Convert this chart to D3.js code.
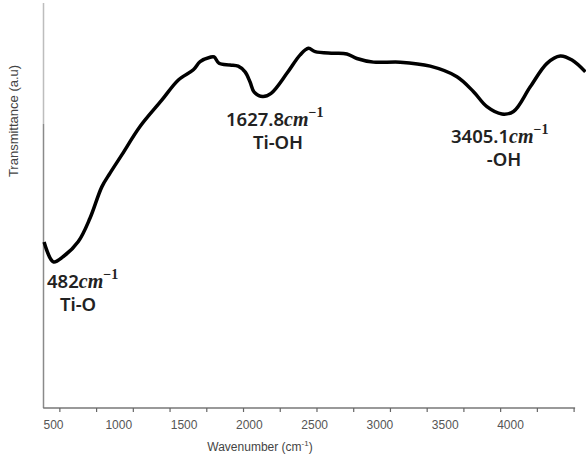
<!DOCTYPE html>
<html>
  <head>
    <meta charset="utf-8">
    <style>
        body { margin: 0; background: #fff; }
        .tick text { font-family: "Liberation Sans", Arial, sans-serif; font-size: 12px; fill: #555; }
        .ann { font-family: "Noto Sans", sans-serif; font-weight: 600; font-size: 18.5px; fill: #222; }
    </style>
    <script src="https://d3js.org/d3.v7.min.js"></script>
  </head>
  <body>
    <svg></svg>
    <script>
    // spectrum
    var wavenumber = [396, 459, 527, 629, 709, 789, 845, 925, 1049, 1197, 1310, 1412, 1458, 1526, 1553,
                      1587, 1662, 1717, 1764, 1798, 1826, 1884, 1941, 2050, 2139, 2195, 2241, 2366, 2457,
                      2525, 2638, 2820, 3024, 3206, 3319, 3410, 3512, 3591, 3705, 3819, 3909, 3989, 4080];
    var transmittance = [41.0, 36.1, 37.4, 41.1, 46.9, 54.6, 58.0, 62.5, 69.5, 76.0, 81.0, 83.5, 85.5, 86.6, 86.7,
                         85.1, 84.7, 84.4, 83.0, 80.5, 78.0, 76.9, 77.7, 82.7, 87.2, 88.8, 88.0, 87.6, 87.4,
                         86.3, 85.4, 85.4, 84.4, 81.8, 78.1, 74.4, 72.6, 73.2, 79.3, 85.1, 86.9, 85.9, 83.0];

    var tickMarks = d3.range(500, 4001, 250);
    var tickLabels = [500, 1000, 1500, 2000, 2500, 3000, 3500, 4000];

    // peak annotations
    var annValue = ["482", "1627.8", "3405.1"];
    var annGroup = ["Ti-O", "Ti-OH", "-OH"];
    var annX = [47, 226, 451];      // left of the number line
    var annY = [288, 126, 143];
    var annGroupX = [78, 278, 504];

    var svg = d3.select("svg")
        .attr("width", 586)
        .attr("height", 457);

    var x = d3.scaleLinear().domain([390, 4000]).range([43.2, 573.6]);
    // the printed labels sit on a slightly different spacing than the tick marks
    var xLab = d3.scaleLinear().domain([500, 4000]).range([53, 510]);
    var y = d3.scaleLinear().domain([0, 100]).range([408, 3]);

    // y axis, lighter at the top
    var grad = svg.append("defs").append("linearGradient")
        .attr("id", "yax")
        .attr("gradientUnits", "userSpaceOnUse")
        .attr("x1", 0).attr("y1", 3).attr("x2", 0).attr("y2", 408);
    grad.append("stop").attr("offset", 0.3).attr("stop-color", "#bdbdbd");
    grad.append("stop").attr("offset", 0.3).attr("stop-color", "#8a8a8a");

    svg.append("line")
        .attr("x1", 43.5).attr("x2", 43.5)
        .attr("y1", y(100)).attr("y2", y(0))
        .attr("stroke", "url(#yax)")
        .attr("stroke-width", 1.5);

    // x axis: tick marks
    var xAxis = svg.append("g")
        .attr("transform", "translate(0,408)")
        .call(d3.axisBottom(x).tickValues(tickMarks).tickSize(4).tickSizeOuter(0).tickFormat(""));
    xAxis.select(".domain").attr("stroke", "#777").attr("stroke-width", 1.3)
        .attr("d", "M" + x(390) + ",0H" + (x(4000) + 1.5));
    xAxis.selectAll(".tick line").attr("stroke", "#666").attr("stroke-width", 1.2);

    // x axis: labels
    var xLabels = svg.append("g")
        .attr("transform", "translate(0,408)")
        .call(d3.axisBottom(xLab).tickValues(tickLabels).tickSize(0).tickPadding(12)
            .tickFormat(d3.format("d")));
    xLabels.select(".domain").remove();
    xLabels.selectAll(".tick line").remove();

    var xt = svg.append("text")
        .attr("x", 260).attr("y", 451)
        .attr("text-anchor", "middle")
        .attr("font-family", "Liberation Sans, Arial, sans-serif")
        .attr("font-size", 12).attr("fill", "#444");
    xt.append("tspan").text("Wavenumber (cm");
    xt.append("tspan").attr("font-size", 8).attr("dy", -5).text("-1");
    xt.append("tspan").attr("dy", 5).text(")");

    svg.append("text")
        .attr("transform", "translate(18,121) rotate(-90)")
        .attr("text-anchor", "middle")
        .attr("font-family", "Liberation Sans, Arial, sans-serif")
        .attr("font-size", 13).attr("fill", "#444")
        .text("Transmittance (a.u)");

    var line = d3.line()
        .x(function(d, i) { return x(wavenumber[i]); })
        .y(function(d) { return y(d); })
        .curve(d3.curveCatmullRom.alpha(0.5));

    svg.append("path")
        .datum(transmittance)
        .attr("fill", "none")
        .attr("stroke", "#000")
        .attr("stroke-width", 3.5)
        .attr("stroke-linejoin", "round")
        .attr("d", line);

    annValue.forEach(function(v, i) {
        var t = svg.append("text").attr("class", "ann")
            .attr("x", annX[i]).attr("y", annY[i]);
        t.append("tspan").text(v);
        t.append("tspan")
            .attr("font-family", "Liberation Serif, serif")
            .attr("font-style", "italic").attr("font-weight", "bold")
            .attr("font-size", 20).text("cm");
        t.append("tspan")
            .attr("font-family", "Liberation Serif, serif")
            .attr("font-weight", "bold")
            .attr("font-size", 14).attr("dy", -9).text("\u22121");

        svg.append("text").attr("class", "ann")
            .attr("x", annGroupX[i]).attr("y", annY[i] + 23)
            .attr("text-anchor", "middle")
            .text(annGroup[i]);
    });
    </script>
  </body>
</html>
